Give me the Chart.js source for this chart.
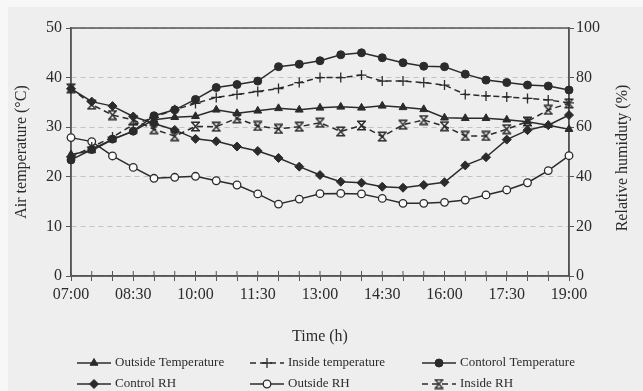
<!DOCTYPE html>
<html>
<head>
<meta charset="utf-8">
<script src="https://cdn.jsdelivr.net/npm/chart.js@4.4.1/dist/chart.umd.min.js"></script>
<style>
  html, body { margin: 0; padding: 0; background: #f6f6f6; }
  canvas { display: block; }
</style>
</head>
<body>
<canvas id="chart" width="643" height="391"></canvas>
<script>
const times = [
  "07:00", "07:30", "08:00", "08:30", "09:00", "09:30", "10:00", "10:30", "11:00",
  "11:30", "12:00", "12:30", "13:00", "13:30", "14:00", "14:30", "15:00", "15:30",
  "16:00", "16:30", "17:00", "17:30", "18:00", "18:30", "19:00",
];
const outsideTemp = [24.5, 25.3, 27.5, 29.2, 31.5, 32.0, 32.2, 33.5, 32.8, 33.3, 33.8, 33.5, 33.9, 34.1, 33.9, 34.3, 34.0, 33.6, 31.9, 31.8, 31.8, 31.5, 31.1, 30.4, 29.6];
const insideTemp = [24.0, 26.0, 28.0, 30.5, 32.0, 33.5, 34.8, 36.0, 36.6, 37.2, 37.8, 39.0, 40.0, 40.0, 40.5, 39.3, 39.3, 39.0, 38.5, 36.6, 36.3, 36.1, 35.8, 35.5, 34.9];
const controlTemp = [23.4, 25.5, 27.6, 29.2, 32.3, 33.5, 35.6, 38.0, 38.6, 39.3, 42.2, 42.7, 43.4, 44.6, 45.0, 44.0, 43.0, 42.3, 42.2, 40.7, 39.5, 39.0, 38.5, 38.3, 37.5];
const controlRH = [75.5, 70.3, 68.5, 64.3, 61.5, 58.9, 55.3, 54.3, 52.2, 50.4, 47.6, 44.1, 40.7, 38.0, 37.6, 36.0, 35.6, 36.7, 37.8, 44.6, 47.9, 55.0, 58.8, 60.8, 64.9];
const outsideRH = [55.8, 54.2, 48.4, 43.8, 39.4, 39.8, 40.2, 38.4, 36.7, 33.1, 29.0, 31.0, 33.2, 33.3, 33.1, 31.3, 29.3, 29.3, 29.7, 30.6, 32.7, 34.7, 37.6, 42.5, 48.5];
const insideRH = [75.7, 69.1, 64.9, 62.9, 59.2, 56.4, 60.3, 60.2, 63.6, 60.5, 59.3, 60.2, 61.8, 58.3, 60.7, 56.2, 61.0, 62.9, 60.4, 56.5, 56.5, 59.2, 62.3, 67.0, 69.6];

const ink = "#2b2b2b";
const frame = "#555";

// X marker with bars on top and bottom, as in the original figure
const barCross = (() => {
  const c = document.createElement("canvas");
  c.width = 11;
  c.height = 11;
  const ctx = c.getContext("2d");
  ctx.strokeStyle = ink;
  ctx.lineWidth = 1.4;
  ctx.beginPath();
  ctx.moveTo(2, 1.5); ctx.lineTo(9, 9.5);
  ctx.moveTo(9, 1.5); ctx.lineTo(2, 9.5);
  ctx.moveTo(1, 1.2); ctx.lineTo(10, 1.2);
  ctx.moveTo(1, 9.8); ctx.lineTo(10, 9.8);
  ctx.stroke();
  return c;
})();

const series = (label, data, axis, style) => ({
  label,
  data,
  yAxisID: axis,
  borderColor: ink,
  backgroundColor: ink,
  borderWidth: 1.5,
  pointBorderColor: ink,
  pointBackgroundColor: ink,
  pointBorderWidth: 1,
  pointRadius: 4,
  tension: 0,
  ...style,
});

const bgPlugin = {
  id: "paper",
  beforeDraw: (chart) => {
    const ctx = chart.ctx;
    ctx.save();
    ctx.fillStyle = "#f7f7f7";
    ctx.fillRect(0, 0, chart.width, chart.height);
    ctx.fillStyle = "#eeeeee";
    ctx.fillRect(8, 7, chart.width - 8, chart.height - 7);
    ctx.restore();
  },
};

const framePlugin = {
  id: "frame",
  beforeDatasetsDraw: (chart) => {
    const { ctx, chartArea: a } = chart;
    const xs = chart.scales.x;
    ctx.save();
    ctx.strokeStyle = frame;
    ctx.lineWidth = 1.5;
    ctx.strokeRect(a.left, a.top, a.right - a.left, a.bottom - a.top);
    ctx.lineWidth = 1;
    ctx.beginPath();
    xs.ticks.forEach((t, i) => {
      const px = xs.getPixelForTick(i);
      ctx.moveTo(px, a.bottom);
      ctx.lineTo(px, a.bottom - 5);
    });
    ctx.stroke();
    ctx.restore();
  },
};

const sideTitlePlugin = {
  id: "sideTitle",
  afterDraw: (chart) => {
    const { ctx, chartArea: a } = chart;
    ctx.save();
    ctx.translate(623, (a.top + a.bottom) / 2 + 6);
    ctx.rotate(-Math.PI / 2);
    ctx.fillStyle = ink;
    ctx.font = "16px 'Liberation Serif', serif";
    ctx.textAlign = "center";
    ctx.textBaseline = "middle";
    ctx.fillText("Relative humiduty (%)", 0, 0);
    ctx.restore();
  },
};

const legendPlugin = {
  id: "gridLegend",
  afterDraw: (chart) => {
    const ctx = chart.ctx;
    const cols = [77, 250, 422];
    const rows = [363, 384];
    chart.data.datasets.forEach((ds, i) => {
      const x = cols[i % 3];
      const y = rows[Math.floor(i / 3)];
      ctx.save();
      ctx.strokeStyle = ink;
      ctx.lineWidth = 1.5;
      ctx.setLineDash(ds.borderDash || []);
      ctx.beginPath();
      ctx.moveTo(x, y);
      ctx.lineTo(x + 34, y);
      ctx.stroke();
      ctx.setLineDash([]);
      ctx.fillStyle = ds.pointBackgroundColor;
      ctx.lineWidth = ds.pointBorderWidth;
      Chart.helpers.drawPoint(
        ctx,
        { pointStyle: ds.pointStyle || "circle", radius: ds.pointRadius, borderWidth: ds.pointBorderWidth, rotation: 0 },
        x + 17,
        y
      );
      ctx.fillStyle = ink;
      ctx.font = "13px 'Liberation Serif', serif";
      ctx.textBaseline = "middle";
      ctx.fillText(ds.label, x + 38, y);
      ctx.restore();
    });
  },
};

Chart.defaults.font.family = "'Liberation Serif', 'Times New Roman', serif";
Chart.defaults.font.size = 16;
Chart.defaults.color = ink;

new Chart(document.getElementById("chart"), {
  type: "line",
  data: {
    labels: times,
    datasets: [
      series("Outside Temperature", outsideTemp, "y", { pointStyle: "triangle", pointRadius: 4.5 }),
      series("Inside temperature", insideTemp, "y", { pointStyle: "cross", pointRadius: 5, pointBorderWidth: 1.3, borderDash: [6, 4] }),
      series("Contorol Temperature", controlTemp, "y", { pointStyle: "circle", pointRadius: 4 }),
      series("Control RH", controlRH, "y1", { pointStyle: "rectRot", pointRadius: 4.5 }),
      series("Outside RH", outsideRH, "y1", { pointStyle: "circle", pointRadius: 3.8, pointBorderWidth: 1.3, pointBackgroundColor: "#fafafa" }),
      series("Inside RH", insideRH, "y1", { pointStyle: barCross, borderDash: [6, 4] }),
    ],
  },
  options: {
    responsive: false,
    animation: false,
    devicePixelRatio: 1,
    layout: { padding: { top: 28, left: 0, right: 0, bottom: 0 } },
    plugins: { legend: { display: false }, tooltip: { enabled: false } },
    scales: {
      x: {
        grid: { display: true, drawOnChartArea: false, drawTicks: true, tickLength: 5, color: frame },
        border: { display: true, color: frame, width: 1.5 },
        ticks: { autoSkip: false, maxRotation: 0, padding: 4, callback: (v, i) => (i % 3 === 0 ? times[i] : "") },
        title: { display: true, text: "Time (h)", padding: { top: 0, bottom: 45 } },
        afterFit: (s) => { s.height = 115; },
      },
      y: {
        position: "left",
        min: 0,
        max: 50,
        ticks: { stepSize: 10, padding: 4 },
        grid: { color: "#c2c2c2", tickColor: frame, tickLength: 5, tickBorderDash: [] },
        border: { color: frame, width: 1.5, dash: [5, 4] },
        title: { display: true, text: "Air temperature (°C)", padding: { top: 12, bottom: 0 } },
        afterFit: (s) => { s.width = 71; },
      },
      y1: {
        position: "right",
        min: 0,
        max: 100,
        ticks: { stepSize: 20, padding: 2 },
        grid: { drawOnChartArea: false, color: frame, tickLength: 5 },
        border: { color: frame, width: 1.5 },
        afterFit: (s) => { s.width = 74; },
      },
    },
  },
  plugins: [bgPlugin, framePlugin, sideTitlePlugin, legendPlugin],
});
</script>
</body>
</html>
